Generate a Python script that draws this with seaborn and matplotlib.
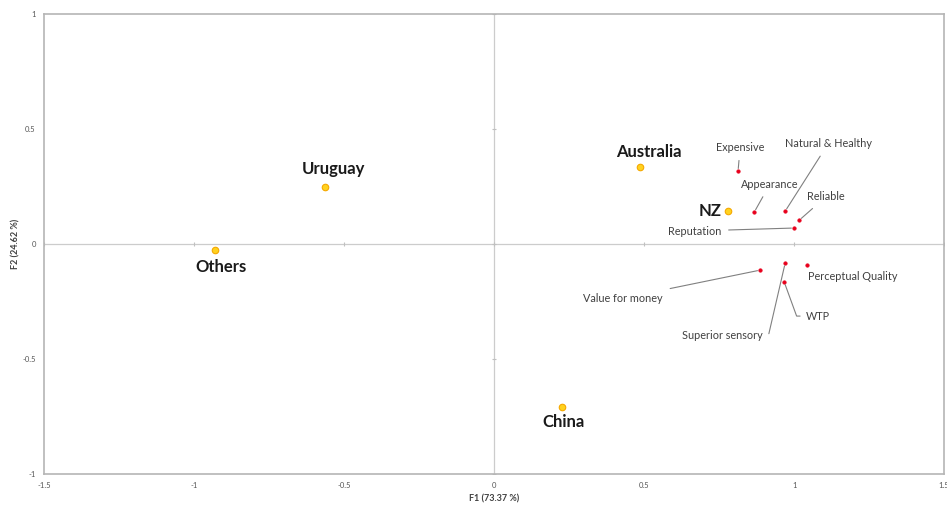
import matplotlib
matplotlib.use("Agg")
import matplotlib.pyplot as plt
import seaborn as sns
import pandas as pd

# ---- data ----
countries = ["Uruguay", "Others", "Australia", "NZ", "China"]
country_f1 = [-0.563, -0.93, 0.487, 0.78, 0.227]
country_f2 = [0.248, -0.026, 0.335, 0.143, -0.709]

attributes = ["Expensive", "Appearance", "Natural & Healthy", "Reliable", "Reputation",
              "Value for money", "Superior sensory", "Perceptual Quality", "WTP"]
attr_f1 = [0.813, 0.867, 0.97, 1.017, 1.0, 0.887, 0.97, 1.043, 0.967]
attr_f2 = [0.317, 0.139, 0.143, 0.104, 0.07, -0.113, -0.083, -0.091, -0.165]

x_ticks = [-1.5, -1, -0.5, 0, 0.5, 1, 1.5]
y_ticks = [-1, -0.5, 0, 0.5, 1]
x_label = "F1 (73.37 %)"
y_label = "F2 (24.62 %)"

# ---- label placement (style/positions) ----
country_offsets = {  # text offset in points from point
    "Uruguay": (6, 13), "Others": (4, -12), "Australia": (6, 11),
    "NZ": (-4.5, 0), "China": (1, -11),
}
attr_text = {  # text anchor position in data units
    "Expensive": (0.82, 0.42),
    "Appearance": (0.919, 0.26),
    "Natural & Healthy": (1.113, 0.436),
    "Reliable": (1.105, 0.205),
    "Reputation": (0.757, 0.057),
    "Value for money": (0.563, -0.235),
    "Superior sensory": (0.897, -0.396),
    "Perceptual Quality": (1.197, -0.139),
    "WTP": (1.04, -0.313),
}
attr_ha = {"Reputation": "right", "Value for money": "right", "Superior sensory": "right",
           "WTP": "left"}
leader = {"Expensive": "straight", "Appearance": "straight", "Natural & Healthy": "straight",
          "Reliable": "straight", "Reputation": "straight", "Value for money": "straight",
          "Superior sensory": "elbow_r", "Perceptual Quality": None, "WTP": "elbow_l"}

sns.set_style("white")
plt.rcParams["font.family"] = ["Lato", "DejaVu Sans"]

fig = plt.figure(figsize=(9.47, 5.07), dpi=100)
ax = fig.add_axes([0.0465, 0.065, 0.9505, 0.907])

ax.axhline(0, color="#cccccc", lw=0.9, zorder=0)
ax.axvline(0, color="#cccccc", lw=0.9, zorder=0)
ax.plot(x_ticks, [0] * len(x_ticks), ls="none", marker="|", ms=3, color="#c0c0c0", mew=0.8, zorder=0)
ax.plot([0] * len(y_ticks), y_ticks, ls="none", marker="_", ms=3, color="#c0c0c0", mew=0.8, zorder=0)

cdf = pd.DataFrame({"F1": country_f1, "F2": country_f2, "name": countries})
adf = pd.DataFrame({"F1": attr_f1, "F2": attr_f2, "name": attributes})

sns.scatterplot(data=cdf, x="F1", y="F2", ax=ax, s=22, color="#ffd21f",
                edgecolor="#f5a800", linewidth=0.8, zorder=3)
sns.scatterplot(data=adf, x="F1", y="F2", ax=ax, s=7, color="#e8001c",
                edgecolor="#e8001c", linewidth=0.3, zorder=3)

for n, x, y in zip(countries, country_f1, country_f2):
    dx, dy = country_offsets[n]
    ha = "right" if n == "NZ" else "center"
    ax.annotate(n, (x, y), xytext=(dx, dy), textcoords="offset points",
                ha=ha, va="center", fontsize=12, fontweight="bold", color="#1a1a1a")

for n, x, y in zip(attributes, attr_f1, attr_f2):
    tx, ty = attr_text[n]
    ha = attr_ha.get(n, "center")
    kind = leader[n]
    if kind is None:
        ax.text(tx, ty, n, ha=ha, va="center", fontsize=7.8, color="#404040")
        continue
    ap = dict(arrowstyle="-", color="#808080", lw=0.8, shrinkA=3, shrinkB=2)
    if kind == "elbow_r":
        ap.update(relpos=(1, 0.5), connectionstyle="angle,angleA=0,angleB=77,rad=0", shrinkA=2)
    elif kind == "elbow_l":
        ap.update(relpos=(0, 0.5), connectionstyle="angle,angleA=180,angleB=110,rad=0", shrinkA=2)
    ax.annotate(n, (x, y), xytext=(tx, ty), textcoords="data",
                ha=ha, va="center", fontsize=7.8, color="#404040", arrowprops=ap)

ax.set_xlim(-1.5, 1.5)
ax.set_ylim(-1, 1)
ax.set_xticks(x_ticks)
ax.set_xticklabels([f"{t:g}" for t in x_ticks])
ax.set_yticks(y_ticks)
ax.set_yticklabels([f"{t:g}" for t in y_ticks])
ax.tick_params(axis="both", length=0, labelsize=5.5, labelcolor="#555555", pad=6)
ax.set_xlabel(x_label, fontsize=6.5, fontweight="bold", color="#404040", labelpad=4)
ax.set_ylabel(y_label, fontsize=6.5, fontweight="bold", color="#404040", labelpad=1)
for s in ax.spines.values():
    s.set_color("#b5b5b5")
    s.set_linewidth(1.2)

fig.savefig("out.png", dpi=100)
